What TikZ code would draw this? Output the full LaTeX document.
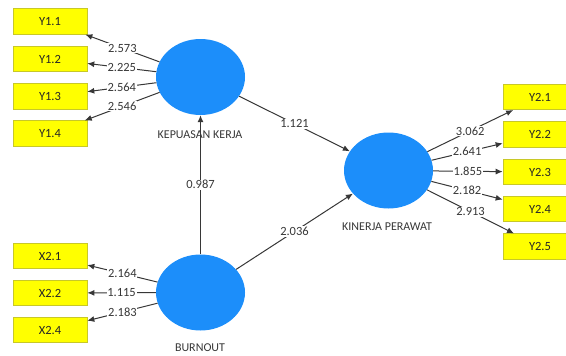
\documentclass[tikz,border=0pt]{standalone}
\usepackage{fontspec}
\setmainfont{Carlito}
\usepackage{tikz}
\usetikzlibrary{shapes.geometric,arrows.meta}
\definecolor{lvblue}{RGB}{28,142,250}
\definecolor{indyellow}{RGB}{255,255,0}
\definecolor{indedge}{RGB}{200,200,40}
\definecolor{pathgray}{RGB}{55,55,55}
\begin{document}
\begin{tikzpicture}[x=1pt,y=-1pt,
    >={Latex[length=7pt,width=6pt]},
    lv/.style={ellipse,fill=lvblue,minimum width=89pt,minimum height=76pt,inner sep=0pt},
    lvtext/.style={text=pathgray,font=\fontsize{12}{14}\selectfont},
    ind/.style={rectangle,fill=indyellow,draw=indedge,line width=0.6pt,minimum width=74pt,minimum height=25.5pt,inner sep=0pt,font=\fontsize{12.5}{14}\selectfont,text=black!85},
    pth/.style={->,draw=pathgray,line width=1pt},
    coef/.style={fill=white,inner sep=0.8pt,text=pathgray,font=\fontsize{12.5}{14}\selectfont}]
        \useasboundingbox (0,0) rectangle (566,356);
        \clip (0,0) rectangle (566,356);
        % latent variables
        \node[lv] (kep) at (200.5,77) {};
        \node[lv] (kin) at (388.5,170.5) {};
        \node[lv] (bur) at (200.5,292.5) {};
        \node[lvtext] (keptext) at (200,135) {KEPUASAN KERJA};
        \node[lvtext] (kintext) at (387,227) {KINERJA PERAWAT};
        \node[lvtext] (burtext) at (200,348) {BURNOUT};
        % indicators
        \foreach \i/\y/\v in {1/21.5/2.573,2/59/2.225,3/96.5/2.564,4/133.5/2.546} {
            \node[ind] (y1\i) at (50,\y) {Y1.\i};
            \draw[pth] (kep) -- node[coef]{\v} (y1\i);
        }
        \foreach \i/\y/\v in {1/256/2.164,2/293/1.115,4/330/2.183} {
            \node[ind] (x2\i) at (50,\y) {X2.\i};
            \draw[pth] (bur) -- node[coef]{\v} (x2\i);
        }
        \foreach \i/\y/\v in {1/97/3.062,2/134.5/2.641,3/172/1.855,4/209/2.182,5/246.5/2.913} {
            \node[ind] (y2\i) at (540,\y) {Y2.\i};
            \draw[pth] (kin) -- node[coef]{\v} (y2\i);
        }
        % structural paths
        \draw[pth] (kep) -- node[coef]{1.121} (kin);
        \draw[pth] (bur) -- node[coef]{0.987} (kep);
        \draw[pth] (bur) -- node[coef]{2.036} (kin);
    \end{tikzpicture}
\end{document}
